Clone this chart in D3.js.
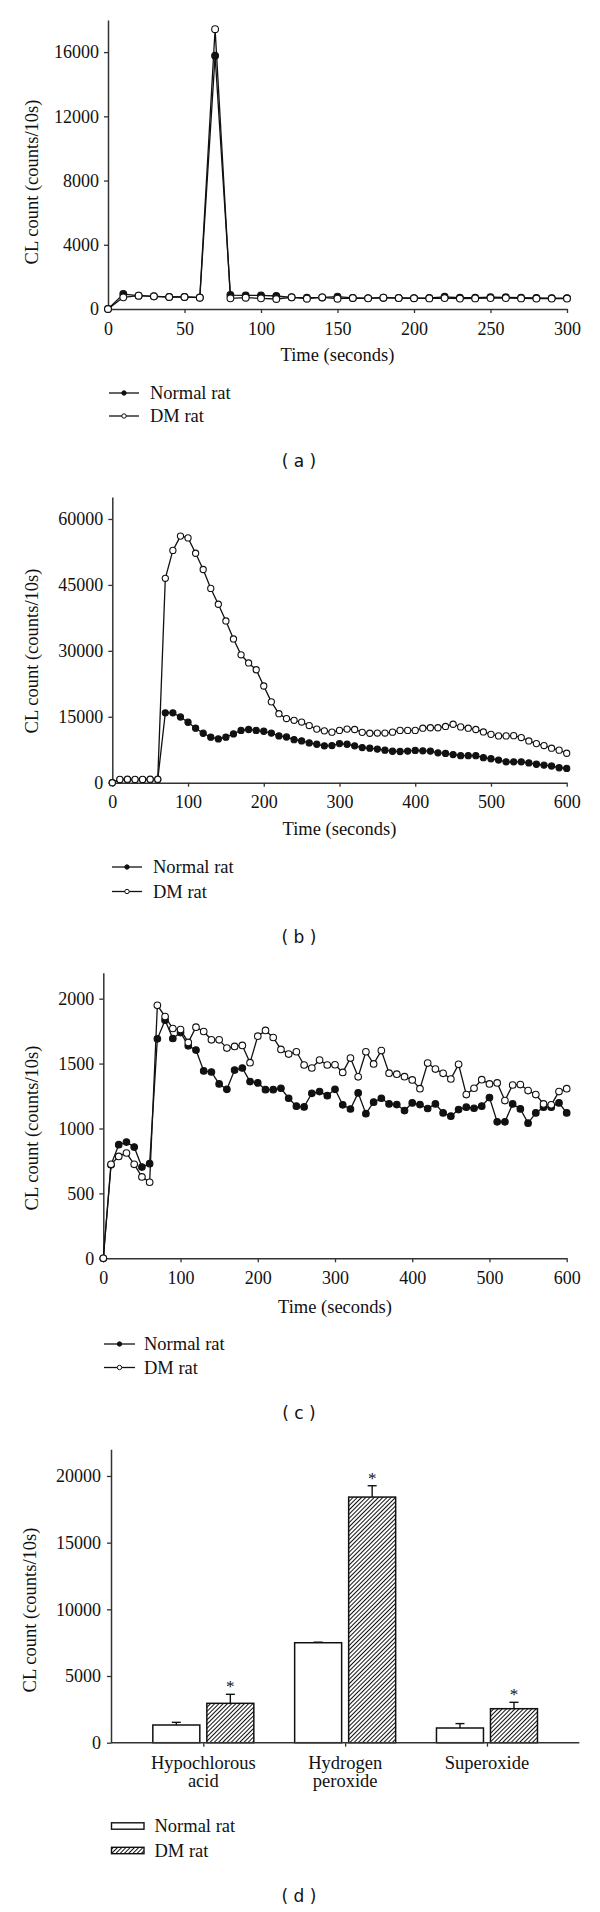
<!DOCTYPE html>
<html>
<head>
<meta charset="utf-8">
<script src="https://cdn.jsdelivr.net/npm/d3@7/dist/d3.min.js"></script>
<style>
  html, body { margin: 0; padding: 0; background: #fff; }
  svg { display: block; }
  text { font-family: "Liberation Serif", "Times New Roman", serif; fill: #111; }
  .cap { font-family: "DejaVu Sans", sans-serif; }
</style>
</head>
<body>
<svg id="chart" width="600" height="1912"></svg>
<script>
// ---------------- DATA ----------------
const seriesNames = ["Normal rat", "DM rat"];

const timeA = [0,10,20,30,40,50,60,70,80,90,100,110,120,130,140,150,160,170,180,190,200,210,220,230,240,250,260,270,280,290,300];
const normalA = [0,930,830,790,750,750,720,15770,870,850,850,810,730,700,720,770,690,680,700,690,680,690,760,700,700,740,730,700,690,680,680];
const dmA = [0,726,830,788,747,747,705,17430,664,705,664,622,726,643,726,643,685,664,705,680,670,660,680,650,660,680,680,660,650,650,650];
const yTicksA = [0,4000,8000,12000,16000];
const xTicksA = [0,50,100,150,200,250,300];

const timeBC = [0,10,20,30,40,50,60,70,80,90,100,110,120,130,140,150,160,170,180,190,200,210,220,230,240,250,260,270,280,290,300,310,320,330,340,350,360,370,380,390,400,410,420,430,440,450,460,470,480,490,500,510,520,530,540,550,560,570,580,590,600];
const normalB = [0,700,700,700,700,700,700,15900,15900,14950,13750,12400,11250,10350,9950,10350,11100,11900,12100,11900,11700,11300,10650,10400,9800,9500,9050,8750,8400,8450,8900,8750,8400,8000,7850,7650,7400,7150,7100,7200,7350,7250,7200,6800,6650,6400,6150,6150,6150,5700,5450,5150,4750,4750,4750,4500,4200,4000,3800,3400,3250];
const dmB = [0,750,800,750,750,800,800,46500,52850,56100,55700,52200,48500,44200,40600,36800,32700,29100,27250,25700,22000,18400,15700,14600,14200,13800,13000,12200,11800,11500,11900,12200,12100,11450,11250,11300,11300,11500,11900,11900,11900,12400,12500,12500,12800,13300,12700,12400,12100,11550,11000,10650,10650,10700,10270,9500,8900,8450,7850,7400,6700];
const yTicksB = [0,15000,30000,45000,60000];
const xTicksBC = [0,100,200,300,400,500,600];

const normalC = [0,720,875,895,857,703,729,1691,1834,1693,1739,1637,1604,1443,1435,1343,1302,1450,1466,1361,1351,1299,1299,1310,1233,1172,1166,1271,1284,1253,1302,1182,1150,1274,1114,1203,1233,1189,1184,1138,1197,1184,1154,1189,1120,1095,1146,1164,1156,1172,1238,1051,1051,1189,1151,1041,1120,1164,1164,1197,1120];
const dmC = [0,724,785,811,724,627,586,1949,1862,1770,1762,1663,1780,1747,1683,1683,1619,1632,1640,1507,1711,1755,1701,1609,1573,1591,1489,1466,1527,1489,1491,1432,1542,1398,1591,1497,1600,1426,1418,1399,1374,1307,1504,1458,1425,1381,1494,1261,1310,1376,1343,1351,1215,1335,1338,1292,1261,1189,1182,1284,1307];
const yTicksC = [0,500,1000,1500,2000];

const categoriesD = ["Hypochlorous|acid", "Hydrogen|peroxide", "Superoxide"];
const normalD = [1327, 7496, 1102];
const normalErrD = [200, 40, 330];
const dmD = [2953, 18418, 2549];
const dmErrD = [675, 850, 480];
const yTicksD = [0,5000,10000,15000,20000];

const yLabel = "CL count (counts/10s)";
const xLabel = "Time (seconds)";
const captions = ["( a )", "( b )", "( c )", "( d )"];

// ---------------- DRAW ----------------
const svg = d3.select("#chart");

const defs = svg.append("defs");
const pat = defs.append("pattern")
  .attr("id", "hatch").attr("patternUnits", "userSpaceOnUse")
  .attr("width", 3).attr("height", 3)
  .attr("patternTransform", "rotate(45)");
pat.append("rect").attr("width", 3).attr("height", 3).attr("fill", "#fff");
pat.append("line").attr("x1", 0).attr("y1", 0).attr("x2", 0).attr("y2", 3)
  .attr("stroke", "#111").attr("stroke-width", 2);

function styleAxis(g) {
  g.selectAll("path.domain").attr("stroke", "#333").attr("stroke-width", 1.5);
  g.selectAll(".tick line").attr("stroke", "#333").attr("stroke-width", 1.3);
  g.selectAll(".tick text").style("font-family", '"Liberation Serif", serif')
    .style("font-size", "18px").attr("fill", "#111");
}

function drawLinePanel(cfg) {
  const x = d3.scaleLinear().domain(cfg.xDomain).range([cfg.left, cfg.right]);
  const y = d3.scaleLinear().domain(cfg.yDomain).range([cfg.bottom, cfg.top]);
  const g = svg.append("g");

  const gx = g.append("g").attr("transform", `translate(0,${cfg.bottom})`)
    .call(d3.axisBottom(x).tickValues(cfg.xTicks).tickSize(4).tickSizeOuter(0).tickPadding(9).tickFormat(d3.format("d")));
  styleAxis(gx);
  const gy = g.append("g").attr("transform", `translate(${cfg.left},0)`)
    .call(d3.axisLeft(y).tickValues(cfg.yTicks).tickSize(4).tickSizeOuter(0).tickPadding(5).tickFormat(d3.format("d")));
  styleAxis(gy);

  const line = d3.line().x((d, i) => x(cfg.t[i])).y(d => y(d));
  [cfg.normal, cfg.dm].forEach((vals, k) => {
    g.append("path").attr("d", line(vals)).attr("fill", "none")
      .attr("stroke", "#111").attr("stroke-width", 1.3);
    g.selectAll(null).data(vals).enter().append("circle")
      .attr("cx", (d, i) => x(cfg.t[i])).attr("cy", d => y(d))
      .attr("r", cfg.r)
      .attr("fill", k === 0 ? "#111" : "#fff")
      .attr("stroke", "#111").attr("stroke-width", 1.1);
  });

  g.append("text").attr("transform", `translate(${cfg.yLabelX},${cfg.yLabelY}) rotate(-90)`)
    .attr("text-anchor", "middle").attr("dy", "0.35em")
    .style("font-size", "18.5px").text(yLabel);
  g.append("text").attr("x", (cfg.left + cfg.right) / 2).attr("y", cfg.xLabelY)
    .attr("text-anchor", "middle").attr("dy", "0.35em")
    .style("font-size", "18.5px").text(xLabel);

  // legend
  seriesNames.forEach((name, k) => {
    const ly = cfg.legY[k];
    g.append("line").attr("x1", cfg.legX1).attr("x2", cfg.legX2).attr("y1", ly).attr("y2", ly)
      .attr("stroke", "#111").attr("stroke-width", 1.3);
    g.append("circle").attr("cx", (cfg.legX1 + cfg.legX2) / 2).attr("cy", ly).attr("r", 2.2)
      .attr("fill", k === 0 ? "#111" : "#fff").attr("stroke", "#111").attr("stroke-width", 1);
    g.append("text").attr("x", cfg.legText).attr("y", ly).attr("dy", "0.33em")
      .style("font-size", "18.5px").text(name);
  });

  g.append("text").attr("class", "cap").attr("x", 299).attr("y", cfg.capY)
    .attr("text-anchor", "middle").attr("dy", "0.35em")
    .style("font-family", '"DejaVu Sans", sans-serif').style("font-size", "17px").text(cfg.caption);
}

drawLinePanel({
  t: timeA, normal: normalA, dm: dmA,
  xDomain: [0, 300], yDomain: [0, 18000], xTicks: xTicksA, yTicks: yTicksA,
  left: 108, right: 567, top: 20, bottom: 309, r: 3.4,
  yLabelX: 32, yLabelY: 182, xLabelY: 355,
  legX1: 109, legX2: 139, legText: 150, legY: [393, 416],
  capY: 461, caption: captions[0]
});

drawLinePanel({
  t: timeBC, normal: normalB, dm: dmB,
  xDomain: [0, 600], yDomain: [0, 65000], xTicks: xTicksBC, yTicks: yTicksB,
  left: 112.3, right: 566.7, top: 497, bottom: 782.7, r: 3.1,
  yLabelX: 32, yLabelY: 651, xLabelY: 829,
  legX1: 112, legX2: 142, legText: 153, legY: [867, 891.5],
  capY: 937, caption: captions[1]
});

drawLinePanel({
  t: timeBC, normal: normalC, dm: dmC,
  xDomain: [0, 600], yDomain: [0, 2200], xTicks: xTicksBC, yTicks: yTicksC,
  left: 103.3, right: 566.7, top: 972.7, bottom: 1258.3, r: 3.3,
  yLabelX: 32, yLabelY: 1128, xLabelY: 1306.7,
  legX1: 104, legX2: 135, legText: 144, legY: [1344, 1367.5],
  capY: 1413.5, caption: captions[2]
});

// ---------------- PANEL D (bars) ----------------
(function () {
  const left = 111, right = 579.3, top = 1449.3, bottom = 1742.7;
  const x = d3.scalePoint().domain(categoriesD).range([left, right]).padding(0.651);
  const sub = d3.scaleBand().domain(seriesNames).range([-50.5, 50.5]).paddingInner(0.13);
  const y = d3.scaleLinear().domain([0, 22000]).range([bottom, top]);
  const g = svg.append("g");

  const rows = categoriesD.map((c, i) => ([
    { c, s: seriesNames[0], v: normalD[i], e: normalErrD[i] },
    { c, s: seriesNames[1], v: dmD[i], e: dmErrD[i] }
  ])).flat();

  // error bars (upper only)
  rows.forEach(d => {
    const cx = x(d.c) + sub(d.s) + sub.bandwidth() / 2;
    g.append("line").attr("x1", cx).attr("x2", cx).attr("y1", y(d.v)).attr("y2", y(d.v + d.e))
      .attr("stroke", "#111").attr("stroke-width", 1.4);
    g.append("line").attr("x1", cx - 4.5).attr("x2", cx + 4.5).attr("y1", y(d.v + d.e)).attr("y2", y(d.v + d.e))
      .attr("stroke", "#111").attr("stroke-width", 1.4);
  });

  g.selectAll("rect.bar").data(rows).enter().append("rect").attr("class", "bar")
    .attr("x", d => x(d.c) + sub(d.s)).attr("width", sub.bandwidth())
    .attr("y", d => y(d.v)).attr("height", d => bottom - y(d.v))
    .attr("fill", d => d.s === seriesNames[0] ? "#fff" : "url(#hatch)")
    .attr("stroke", "#111").attr("stroke-width", 1.5);

  // significance asterisks
  rows.filter(d => d.s === seriesNames[1]).forEach(d => {
    const cx = x(d.c) + sub(d.s) + sub.bandwidth() / 2;
    g.append("text").attr("x", cx).attr("y", y(d.v + d.e) - 2)
      .attr("text-anchor", "middle").style("font-size", "17px").attr("fill", "#444").text("*");
  });

  const gx = g.append("g").attr("transform", `translate(0,${bottom})`)
    .call(d3.axisBottom(x).tickSize(4).tickSizeOuter(0).tickFormat(""));
  styleAxis(gx);
  gx.select("path.domain").attr("d", `M${left},0H${right}`);
  categoriesD.forEach(c => {
    const lines = c.split("|");
    lines.forEach((ln, j) => {
      g.append("text").attr("x", x(c)).attr("y", bottom + 20 + j * 18).attr("dy", "0.35em")
        .attr("text-anchor", "middle").style("font-size", "18.5px").text(ln);
    });
  });

  const gy = g.append("g").attr("transform", `translate(${left},0)`)
    .call(d3.axisLeft(y).tickValues(yTicksD).tickSize(4).tickSizeOuter(0).tickPadding(6).tickFormat(d3.format("d")));
  styleAxis(gy);

  g.append("text").attr("transform", `translate(30,1610) rotate(-90)`)
    .attr("text-anchor", "middle").attr("dy", "0.35em")
    .style("font-size", "18.5px").text(yLabel);

  // legend
  const legY = [1826, 1850.5];
  seriesNames.forEach((name, k) => {
    g.append("rect").attr("x", 111.5).attr("y", legY[k] - 3.2).attr("width", 32.5).attr("height", 6.4)
      .attr("fill", k === 0 ? "#fff" : "url(#hatch)").attr("stroke", "#111").attr("stroke-width", 1.4);
    g.append("text").attr("x", 154.5).attr("y", legY[k]).attr("dy", "0.33em")
      .style("font-size", "18.5px").text(name);
  });

  g.append("text").attr("x", 299).attr("y", 1896.5)
    .attr("text-anchor", "middle").attr("dy", "0.35em")
    .style("font-family", '"DejaVu Sans", sans-serif').style("font-size", "17px").text(captions[3]);
})();
</script>
</body>
</html>
